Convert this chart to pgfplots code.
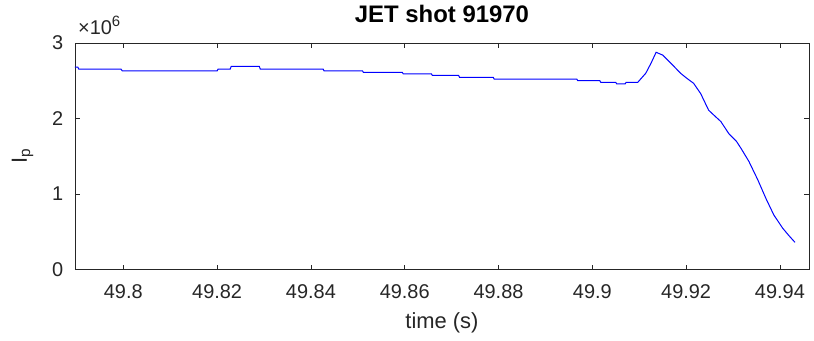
\documentclass[border=0pt]{standalone}
\usepackage{pgfplots}
\pgfplotsset{compat=1.18}
\usepackage{fontspec}
\setmainfont{Liberation Sans}
\definecolor{axgray}{rgb}{0.15,0.15,0.15}
\begin{document}
\begin{tikzpicture}
\begin{axis}[
  scale only axis,
  width=734bp, height=226.5bp,
  xmin=49.7897, xmax=49.9462,
  ymin=0, ymax=3e6,
  xtick={49.8,49.82,49.84,49.86,49.88,49.9,49.92,49.94},
  xticklabels={49.8,49.82,49.84,49.86,49.88,49.9,49.92,49.94},
  ytick={0,1e6,2e6,3e6},
  yticklabels={0,1,2,3},
  scaled x ticks=false,
  scaled y ticks=false,
  tick align=inside,
  major tick length=5bp,
  axis line style={axgray, line width=0.8bp},
  every tick/.style={axgray, line width=0.8bp},
  tick label style={font=\fontsize{20}{20}\selectfont, text=axgray},
  /pgf/number format/assume math mode=true,
  xticklabel style={inner sep=0pt, anchor=north, yshift=-15bp},
  yticklabel style={inner sep=0pt, anchor=east, xshift=-11.5bp},
  title={JET shot 91970},
  title style={at={(axis description cs:0.5,1)}, anchor=base, inner sep=0pt, yshift=15bp, font=\fontsize{24}{24}\selectfont\bfseries},
  xlabel={time (s)},
  xlabel style={at={(axis description cs:0.5,0)}, anchor=north, inner sep=0pt, yshift=-43bp, font=\fontsize{22}{22}\selectfont, text=axgray},
  ylabel={I\textsubscript{p}},
  ylabel style={at={(axis description cs:-0.0654,0.5)}, anchor=base, inner sep=0pt, rotate=0, font=\fontsize{22}{22}\selectfont, text=axgray},
]
\addplot[blue, line width=1bp] table {
49.7897 2680000
49.7903 2680000
49.7905 2655000
49.7995 2655000
49.7998 2630000
49.8200 2630000
49.8202 2655000
49.8228 2655000
49.8230 2690000
49.8290 2690000
49.8292 2655000
49.8426 2655000
49.8428 2630000
49.8510 2630000
49.8512 2610000
49.8595 2610000
49.8597 2590000
49.8657 2590000
49.8659 2570000
49.8715 2570000
49.8717 2545000
49.8789 2545000
49.8791 2520000
49.8967 2520000
49.8969 2500000
49.9016 2500000
49.9018 2480000
49.9050 2480000
49.9052 2457000
49.9070 2457000
49.9072 2480000
49.9097 2480000
49.9114 2600000
49.9125 2730000
49.9136 2877000
49.9150 2840000
49.9171 2710000
49.9188 2600000
49.9202 2530000
49.9216 2466000
49.9231 2330000
49.9248 2110000
49.9260 2040000
49.9274 1960000
49.9291 1800000
49.9307 1700000
49.9317 1605000
49.9334 1430000
49.9353 1185000
49.9370 943000
49.9387 722000
49.9406 546000
49.9419 450000
49.9432 360000
};
\end{axis}
\node[anchor=base west, inner sep=0pt, text=axgray, font=\fontsize{20}{20}\selectfont] at (3bp,234.5bp) {×10\raisebox{8bp}{\fontsize{15}{15}\selectfont 6}};
\pgfresetboundingbox
\path[use as bounding box] (-75bp,-71.5bp) rectangle (739bp,269.5bp);
\end{tikzpicture}
\end{document}
